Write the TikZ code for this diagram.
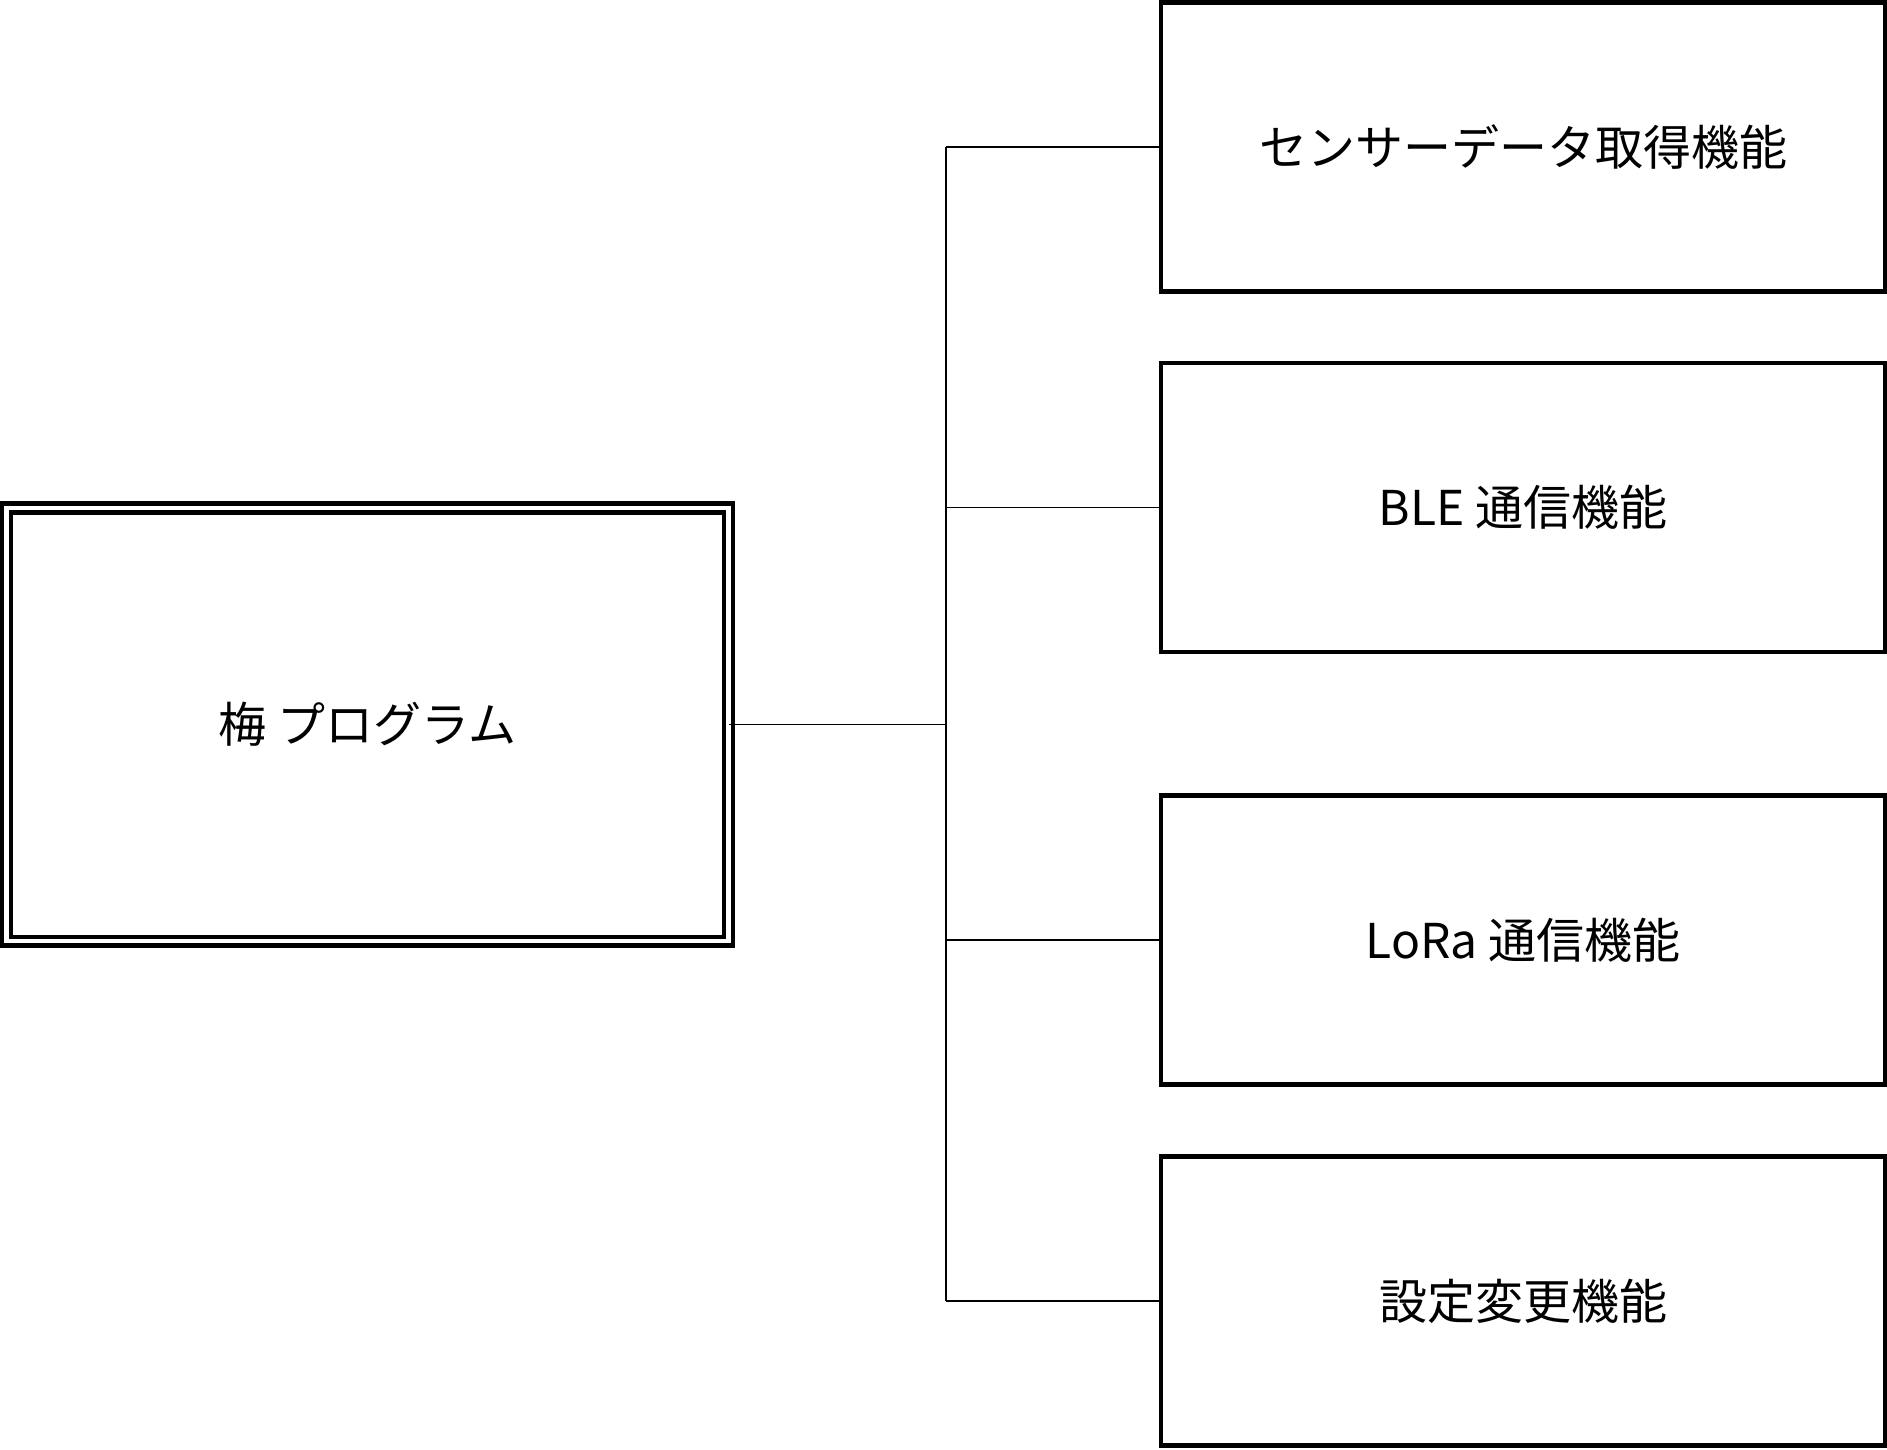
\documentclass[tikz,border=0pt]{standalone}
\usepackage{fontspec}
\setmainfont{Noto Sans CJK JP}
\begin{document}
\begin{tikzpicture}[x=0.75pt,y=-0.75pt,
    funcbox/.style={draw,line width=3.1pt,minimum width=542.6pt,minimum height=216.8pt,
        inner sep=0pt,outer sep=0pt,font=\fontsize{36}{40}\selectfont},
    progbox/.style={draw,double,line width=3.3pt,double distance=3.4pt,
        minimum width=541.5pt,minimum height=325pt,inner sep=0pt,outer sep=0pt,
        font=\fontsize{36}{40}\selectfont},
    link/.style={line width=0.9pt}]
    \useasboundingbox (0,0) rectangle (1887,1449);
    \node[progbox] (prog) at (367.6,724.5) {梅 プログラム};
    \foreach \n/\y/\txt in {1/147/センサーデータ取得機能, 2/507.5/BLE 通信機能, 3/940/LoRa 通信機能, 4/1301/設定変更機能}
    {
        \node[funcbox] (func\n) at (1523,\y) {\txt};
    }
    \coordinate (split) at (946,724.5);
    \draw[link] (prog.east) -- (split);
    \draw[link] (split |- func1.west) -- (split |- func4.west);
    \foreach \n in {1,...,4}
        \draw[link] (split |- func\n.west) -- (func\n.west);
\end{tikzpicture}
\end{document}
